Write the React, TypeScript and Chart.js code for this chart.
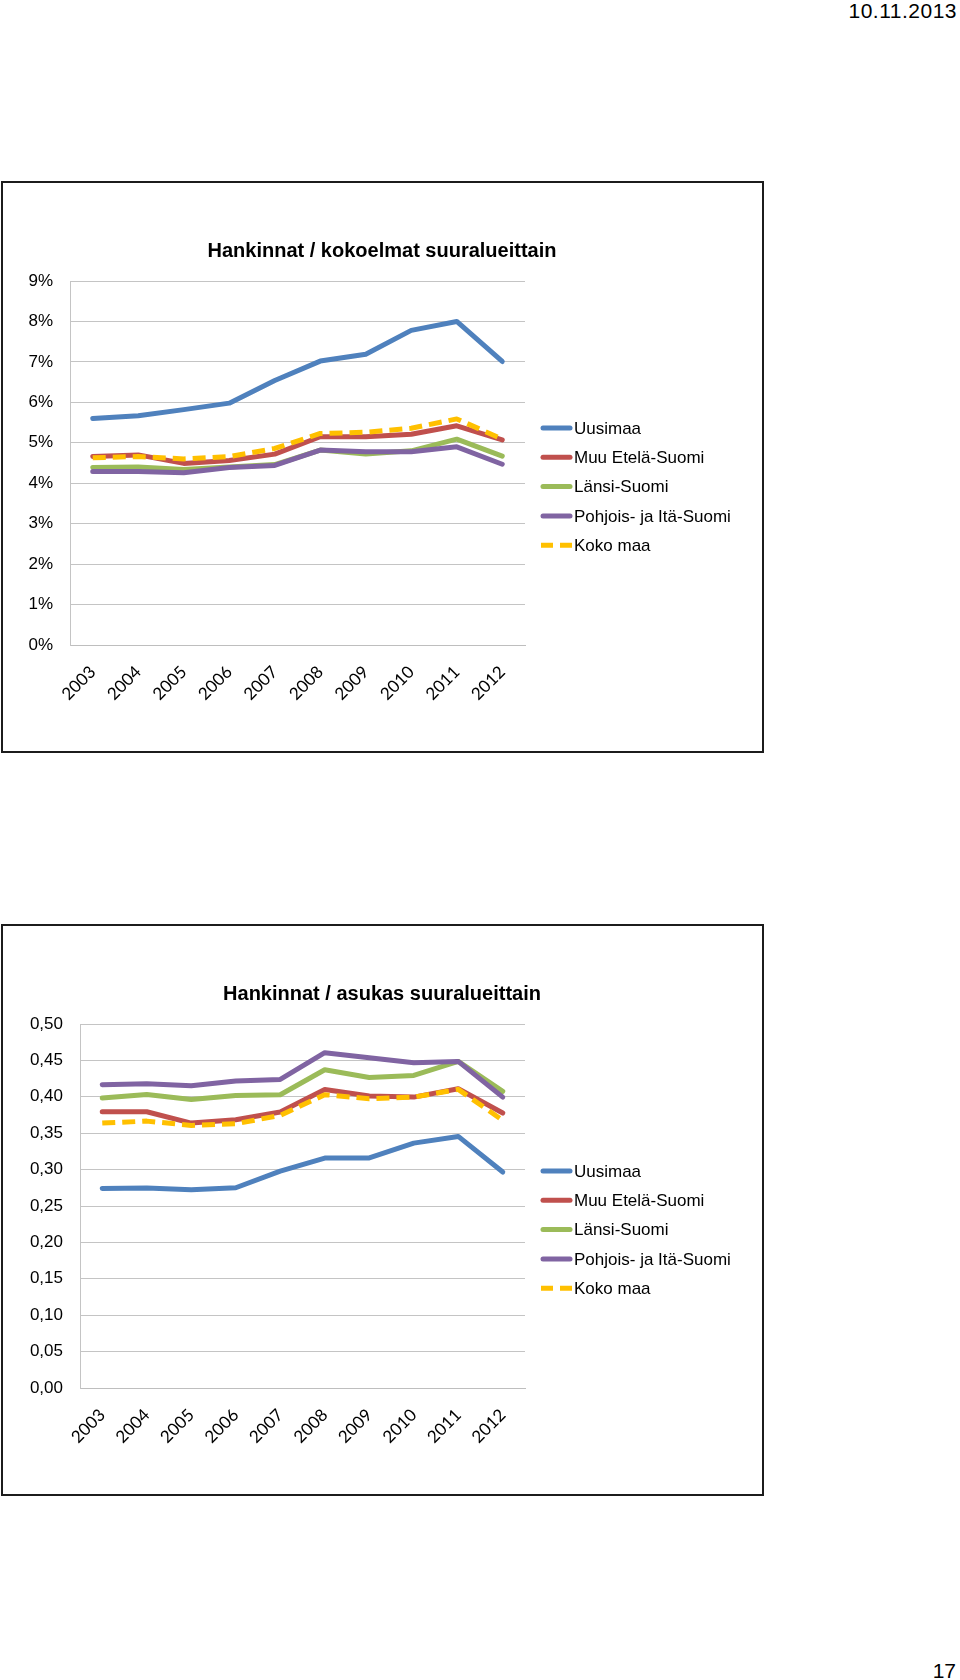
import React, { useEffect, useRef } from 'react';
import { Chart, registerables } from 'chart.js';

Chart.register(...registerables);

const years = ['2003', '2004', '2005', '2006', '2007', '2008', '2009', '2010', '2011', '2012'];
const seriesNames = ['Uusimaa', 'Muu Etelä-Suomi', 'Länsi-Suomi', 'Pohjois- ja Itä-Suomi', 'Koko maa'];
const seriesColors = ['#4F81BD', '#C0504D', '#9BBB59', '#8064A2', '#FFC000'];
const seriesDashed = [false, false, false, false, true];

// Chart 1: Hankinnat / kokoelmat (%)
const title1 = 'Hankinnat / kokoelmat suuralueittain';
const kok_Uusimaa = [5.6, 5.67, 5.82, 5.98, 6.54, 7.02, 7.19, 7.78, 8.0, 7.01];
const kok_MuuEtela = [4.66, 4.7, 4.49, 4.56, 4.72, 5.15, 5.15, 5.21, 5.42, 5.07];
const kok_Lansi = [4.39, 4.4, 4.34, 4.4, 4.46, 4.82, 4.72, 4.8, 5.09, 4.67];
const kok_PohjoisIta = [4.29, 4.29, 4.26, 4.39, 4.44, 4.82, 4.78, 4.78, 4.9, 4.47];
const kok_KokoMaa = [4.63, 4.66, 4.6, 4.66, 4.86, 5.23, 5.26, 5.36, 5.59, 5.09];
const yTicks1 = ['0%', '1%', '2%', '3%', '4%', '5%', '6%', '7%', '8%', '9%'];

// Chart 2: Hankinnat / asukas
const title2 = 'Hankinnat / asukas suuralueittain';
const as_Uusimaa = [0.274, 0.2746, 0.2724, 0.2751, 0.298, 0.3158, 0.316, 0.3364, 0.3456, 0.2966];
const as_MuuEtela = [0.3795, 0.3795, 0.3639, 0.3685, 0.379, 0.4101, 0.401, 0.3996, 0.4111, 0.3777];
const as_Lansi = [0.3982, 0.4033, 0.3964, 0.4019, 0.4028, 0.4372, 0.4266, 0.4293, 0.4486, 0.4074];
const as_PohjoisIta = [0.4166, 0.418, 0.4152, 0.4216, 0.4239, 0.4606, 0.4537, 0.4468, 0.4486, 0.3996];
const as_KokoMaa = [0.3639, 0.3666, 0.3607, 0.363, 0.3745, 0.4029, 0.3974, 0.3996, 0.4102, 0.3676];
const yTicks2 = ['0,00', '0,05', '0,10', '0,15', '0,20', '0,25', '0,30', '0,35', '0,40', '0,45', '0,50'];

const FONT = '"Liberation Sans", Arial, sans-serif';

type Spec = {
  title: string;
  values: number[][];
  yMax: number;
  yStep: number;
  yTicks: string[];
  yAxisWidth: number;
  top: number;
};

function makeOverlayPlugin(title: string) {
  return {
    id: 'overlay',
    afterDraw(chart: any) {
      const ctx = chart.ctx as CanvasRenderingContext2D;
      ctx.save();
      ctx.fillStyle = '#000';
      ctx.font = 'bold 20px ' + FONT;
      ctx.textAlign = 'center';
      ctx.textBaseline = 'middle';
      ctx.fillText(title, 382, 69);
      // legend
      const ds = chart.data.datasets;
      ctx.font = '17px ' + FONT;
      ctx.textAlign = 'left';
      for (let i = 0; i < ds.length; i++) {
        const y = 246 + i * 29.3;
        ctx.beginPath();
        ctx.strokeStyle = ds[i].borderColor;
        ctx.lineWidth = 5;
        if (ds[i].borderDash && ds[i].borderDash.length) {
          ctx.setLineDash([12, 7]);
          ctx.lineCap = 'butt';
          ctx.moveTo(541, y);
          ctx.lineTo(572, y);
        } else {
          ctx.setLineDash([]);
          ctx.lineCap = 'round';
          ctx.moveTo(543, y);
          ctx.lineTo(570, y);
        }
        ctx.stroke();
        ctx.setLineDash([]);
        ctx.fillStyle = '#000';
        ctx.fillText(ds[i].label, 574, y + 1);
      }
      ctx.restore();
    },
  };
}

function LineChartBox({ spec }: { spec: Spec }) {
  const ref = useRef<HTMLCanvasElement | null>(null);
  useEffect(() => {
    if (!ref.current) return;
    const datasets = spec.values.map((vals, i) => ({
      label: seriesNames[i],
      data: vals,
      borderColor: seriesColors[i],
      backgroundColor: seriesColors[i],
      borderWidth: 5,
      borderDash: seriesDashed[i] ? [13, 7] : [],
      borderCapStyle: seriesDashed[i] ? 'butt' : 'round',
      borderJoinStyle: 'round',
      pointRadius: 0,
      pointHoverRadius: 0,
      tension: 0,
      fill: false,
      order: seriesNames.length - 1 - i,
    }));
    const chart = new Chart(ref.current, {
      type: 'line',
      data: { labels: years, datasets: datasets as any },
      options: {
        responsive: false,
        animation: false,
        devicePixelRatio: 1,
        layout: { padding: { left: 0, top: 99, right: 245, bottom: 7 } },
        plugins: {
          legend: { display: false },
          title: { display: false },
          tooltip: { enabled: false },
        },
        scales: {
          x: {
            type: 'category',
            offset: true,
            grid: { display: false, drawTicks: false },
            border: { display: true, color: '#BEBEBE', width: 1 },
            ticks: {
              minRotation: 45,
              maxRotation: 45,
              autoSkip: false,
              padding: 17,
              color: '#000',
              font: { family: 'Lato, "Open Sans", sans-serif', size: 17 },
            },
            afterFit: (scale: any) => {
              scale.height = 100;
            },
          },
          y: {
            min: 0,
            max: spec.yMax,
            grid: { color: '#C4C4C4', lineWidth: 1, drawTicks: false },
            border: { display: true, color: '#C4C4C4', width: 1 },
            ticks: {
              stepSize: spec.yStep,
              padding: 17,
              color: '#000',
              font: { family: FONT, size: 17 },
              callback: (_v: any, idx: number) => spec.yTicks[idx],
            },
            afterFit: (scale: any) => {
              scale.width = spec.yAxisWidth;
            },
          },
        },
      },
      plugins: [makeOverlayPlugin(spec.title)],
    } as any);
    return () => chart.destroy();
  }, [spec]);
  return (
    <>
      <canvas
        ref={ref}
        width={770}
        height={570}
        style={{ position: 'absolute', left: 0, top: spec.top, width: 770, height: 570 }}
      />
      <div
        style={{
          position: 'absolute',
          left: 1,
          top: spec.top - 1,
          width: 763,
          height: 572,
          border: '2px solid #1c1c1c',
          boxSizing: 'border-box',
          pointerEvents: 'none',
        }}
      />
    </>
  );
}

const spec1: Spec = {
  title: title1,
  values: [kok_Uusimaa, kok_MuuEtela, kok_Lansi, kok_PohjoisIta, kok_KokoMaa],
  yMax: 9,
  yStep: 1,
  yTicks: yTicks1,
  yAxisWidth: 70,
  top: 182,
};

const spec2: Spec = {
  title: title2,
  values: [as_Uusimaa, as_MuuEtela, as_Lansi, as_PohjoisIta, as_KokoMaa],
  yMax: 0.5,
  yStep: 0.05,
  yTicks: yTicks2,
  yAxisWidth: 80,
  top: 925,
};

export default function App() {
  return (
    <div
      style={{
        position: 'absolute',
        left: 0,
        top: 0,
        width: 960,
        height: 1680,
        background: '#fff',
        fontFamily: FONT,
        color: '#000',
        overflow: 'hidden',
      }}
    >
      <div style={{ position: 'absolute', right: 3, top: 0, fontSize: 21, lineHeight: 1, letterSpacing: 0.5 }}>
        10.11.2013
      </div>
      <LineChartBox spec={spec1} />
      <LineChartBox spec={spec2} />
      <div style={{ position: 'absolute', right: 4, top: 1660, fontSize: 21, lineHeight: 1 }}>17</div>
    </div>
  );
}
